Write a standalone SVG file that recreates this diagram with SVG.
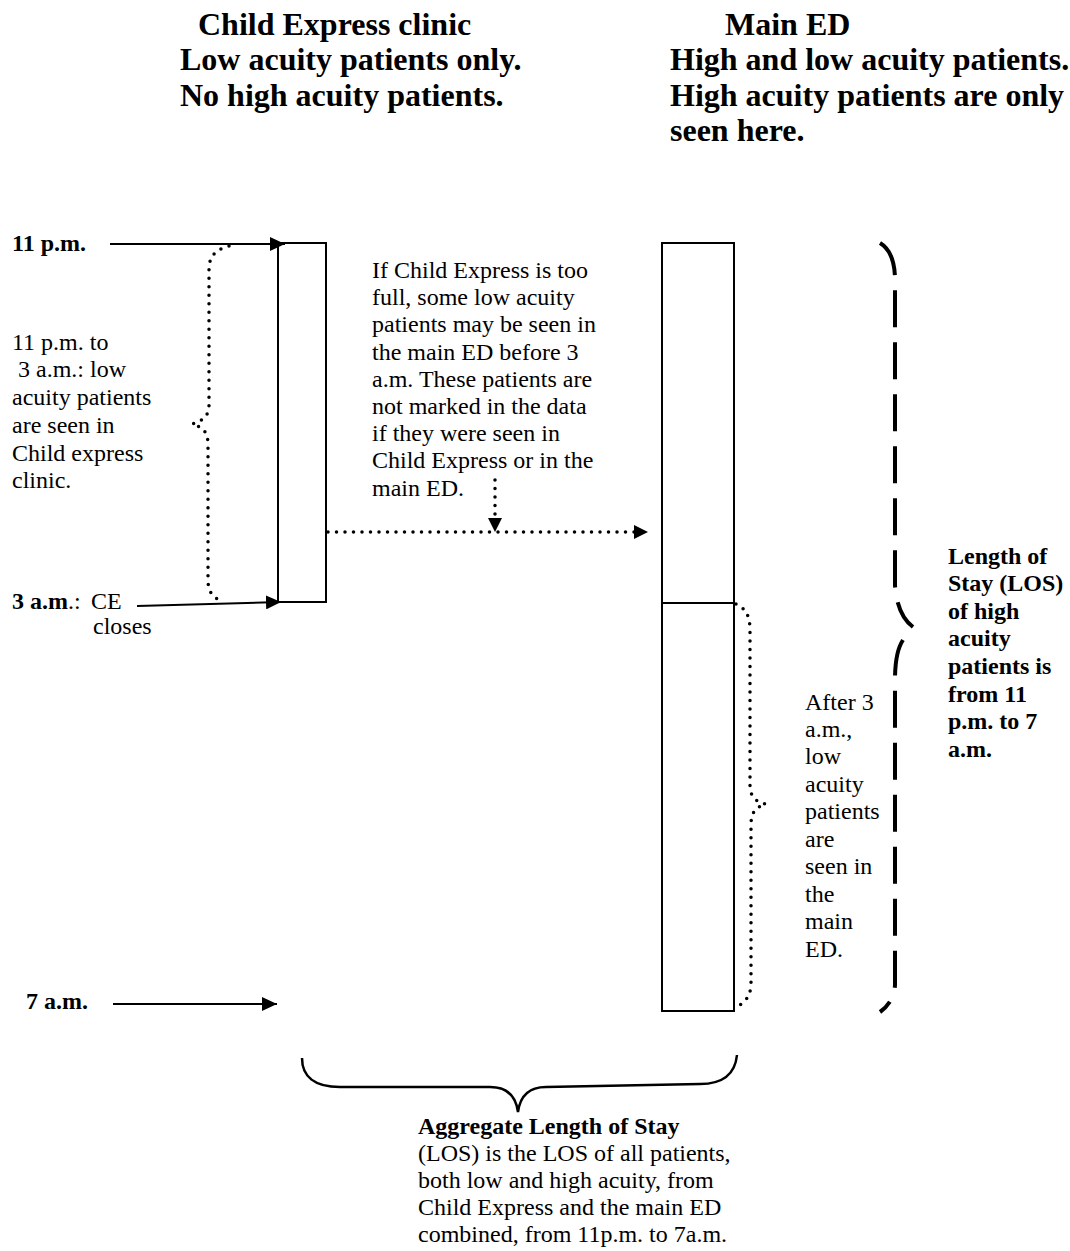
<svg xmlns="http://www.w3.org/2000/svg" width="1070" height="1251" viewBox="0 0 1070 1251">
<style>
text { font-family: "Liberation Serif", "Times New Roman", serif; fill: #000; }
.title { font-size: 32px; font-weight: bold; }
.body { font-size: 24px; }
.bold { font-weight: bold; }
.box { fill: #fff; stroke: #000; stroke-width: 2; }
.arrow { stroke: #000; stroke-width: 2; fill: none; }
.dots { stroke: #000; stroke-width: 3.5; stroke-linecap: round; stroke-dasharray: 0 8.5; fill: none; }
.dash { stroke: #000; stroke-width: 4; fill: none; stroke-dasharray: 37 15; }
.brace { stroke: #000; stroke-width: 2.5; fill: none; }
</style>
<defs>
<marker id="arr" viewBox="0 0 15 14" refX="15" refY="7" markerWidth="15" markerHeight="14" markerUnits="userSpaceOnUse" orient="auto">
<path d="M0,0 L15,7 L0,14 z" fill="#000"/>
</marker>
</defs>

<g id="titles">
<text class="title" x="198" y="35">Child Express clinic</text>
<text class="title" x="180" y="70">Low acuity patients only.</text>
<text class="title" x="180" y="105.5">No high acuity patients.</text>
<text class="title" x="725" y="35">Main ED</text>
<text class="title" x="670" y="70">High and low acuity patients.</text>
<text class="title" x="670" y="105.5">High acuity patients are only</text>
<text class="title" x="670" y="141">seen here.</text>
</g>

<g id="child-express">
<rect class="box" x="278" y="243" width="48" height="359"/>
</g>

<g id="main-ed">
<rect class="box" x="662" y="243" width="72" height="768"/>
<line x1="662" y1="603" x2="734" y2="603" stroke="#000" stroke-width="2"/>
</g>

<g id="time-labels">
<text class="body bold" x="12" y="251">11 p.m.</text>
<text class="body" x="12" y="609"><tspan class="bold">3 a.m</tspan>.:</text>
<text class="body" x="91" y="609">CE</text>
<text class="body" x="93" y="634">closes</text>
<text class="body bold" x="26" y="1009">7 a.m.</text>
</g>

<g id="left-note">
<text class="body" x="12" y="350">11 p.m. to</text>
<text class="body" x="18" y="377">3 a.m.: low</text>
<text class="body" x="12" y="405">acuity patients</text>
<text class="body" x="12" y="433">are seen in</text>
<text class="body" x="12" y="461">Child express</text>
<text class="body" x="12" y="488">clinic.</text>
</g>

<g id="middle-note">
<text class="body" x="372" y="278">If Child Express is too</text>
<text class="body" x="372" y="305">full, some low acuity</text>
<text class="body" x="372" y="332">patients may be seen in</text>
<text class="body" x="372" y="360">the main ED before 3</text>
<text class="body" x="372" y="387">a.m. These patients are</text>
<text class="body" x="372" y="414">not marked in the data</text>
<text class="body" x="372" y="441">if they were seen in</text>
<text class="body" x="372" y="468">Child Express or in the</text>
<text class="body" x="372" y="496">main ED.</text>
</g>

<g id="after-note">
<text class="body" x="805" y="710">After 3</text>
<text class="body" x="805" y="737">a.m.,</text>
<text class="body" x="805" y="764">low</text>
<text class="body" x="805" y="792">acuity</text>
<text class="body" x="805" y="819">patients</text>
<text class="body" x="805" y="847">are</text>
<text class="body" x="805" y="874">seen in</text>
<text class="body" x="805" y="902">the</text>
<text class="body" x="805" y="929">main</text>
<text class="body" x="805" y="957">ED.</text>
</g>

<g id="los-note">
<text class="body bold" x="948" y="564">Length of</text>
<text class="body bold" x="948" y="591">Stay (LOS)</text>
<text class="body bold" x="948" y="619">of high</text>
<text class="body bold" x="948" y="646">acuity</text>
<text class="body bold" x="948" y="674">patients is</text>
<text class="body bold" x="948" y="702">from 11</text>
<text class="body bold" x="948" y="729">p.m. to 7</text>
<text class="body bold" x="948" y="757">a.m.</text>
</g>

<g id="aggregate-note">
<text class="body bold" x="418" y="1134">Aggregate Length of Stay</text>
<text class="body" x="418" y="1161">(LOS) is the LOS of all patients,</text>
<text class="body" x="418" y="1188">both low and high acuity, from</text>
<text class="body" x="418" y="1215">Child Express and the main ED</text>
<text class="body" x="418" y="1242">combined, from 11p.m. to 7a.m.</text>
</g>

<g id="connectors">
<line class="arrow" x1="110" y1="244" x2="285" y2="244" marker-end="url(#arr)"/>
<line class="arrow" x1="137" y1="606" x2="281" y2="602" marker-end="url(#arr)"/>
<line class="arrow" x1="113" y1="1004" x2="277" y2="1004" marker-end="url(#arr)"/>
<path class="dots" d="M328 532 L636 532"/>
<path d="M634 525 L648 532 L634 539 z" fill="#000"/>
<path class="dots" d="M495 480 L495 516"/>
<path d="M488 518 L495 532 L502 518 z" fill="#000"/>
<path class="dots" d="M229 246 C215 250 209 256 209 270 L209 405 C209 416 203 421 192 424 C203 427 208 432 208 445 L208 580 C208 592 213 598 222 601"/>
<path class="dots" d="M736 604 C745 608 750 615 750 630 L750 785 C750 797 756 802 766 804 C756 807 751 812 751 825 L751 983 C751 996 745 1003 736 1007"/>
<path class="dash" d="M880 243 Q895 252 895 280 L895 585 Q897 615 913 627"/>
<path class="dash" d="M903 640 Q895 652 895 680 L895 985 Q894 1002 880 1012"/>
<path class="brace" d="M302 1058 C302 1076 314 1087 340 1087 L490 1087 C508 1087 516 1097 518 1112 C520 1097 528 1087 546 1087 L700 1084 C722 1084 735 1075 737 1055"/>
</g>
</svg>
